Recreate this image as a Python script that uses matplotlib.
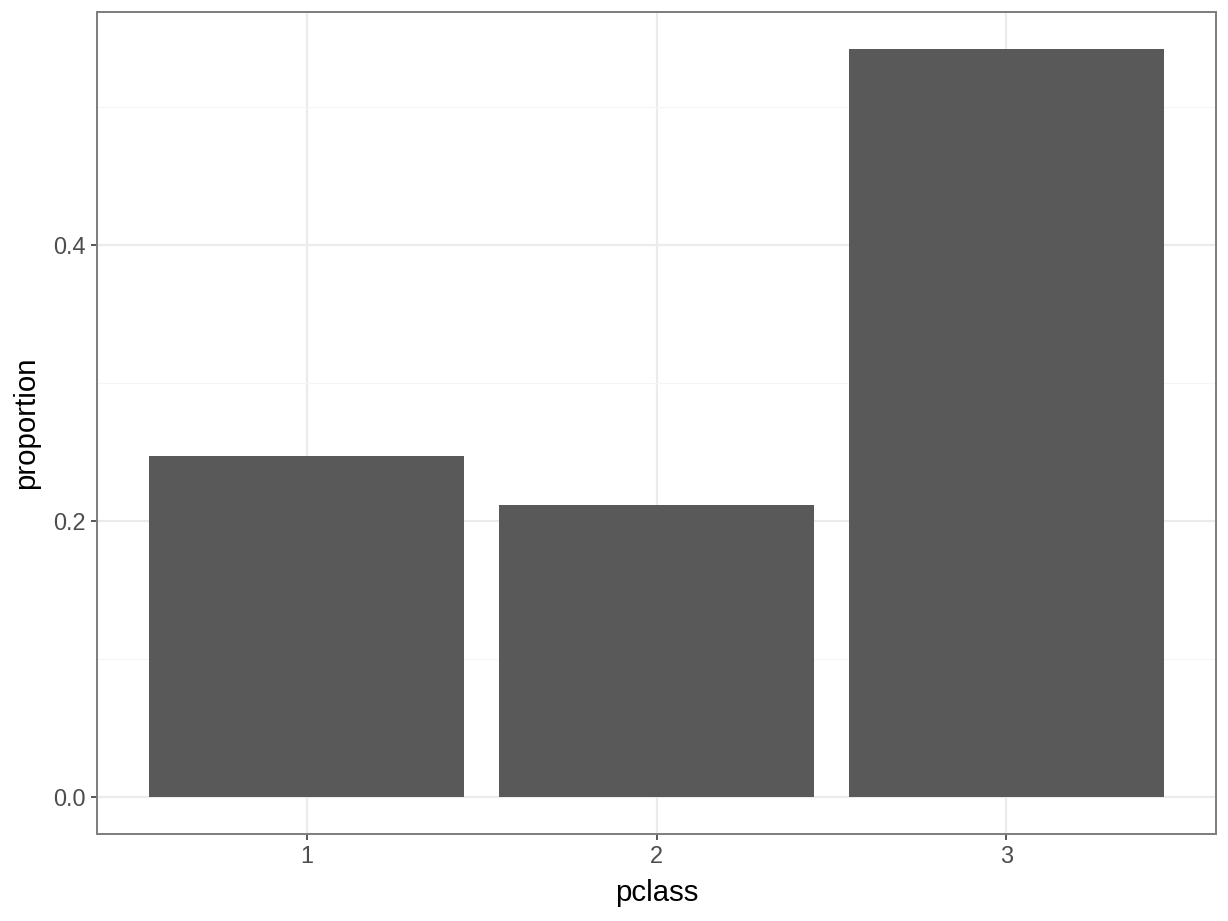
import matplotlib
matplotlib.use("Agg")
import matplotlib.pyplot as plt
import numpy as np

# titanic passenger share by class
pclass = ['1', '2', '3']
proportion = [323 / 1309, 277 / 1309, 709 / 1309]

plt.rcParams['font.family'] = ['Liberation Sans', 'DejaVu Sans']

fig = plt.figure(figsize=(6.4, 4.8), dpi=191.875)
ax = fig.add_axes([97 / 1228, 1 - 834 / 921, (1216 - 97) / 1228, (834 - 12) / 921])

x = np.arange(1, len(pclass) + 1)
ax.bar(x, proportion, width=0.9, color='#595959', zorder=3)

ymax = max(proportion)
ax.set_ylim(-0.05 * ymax, 1.05 * ymax)
ax.set_xlim(0.4, 3.6)
ax.set_xticks(x)
ax.set_xticklabels(pclass)
ax.set_yticks([0.0, 0.2, 0.4])
ax.set_yticklabels(['0.0', '0.2', '0.4'])
ax.set_yticks([0.1, 0.3, 0.5], minor=True)
ax.tick_params(axis='x', which='minor', bottom=False)

ax.grid(True, which='major', color='#ebebeb', linewidth=0.8, zorder=0)
ax.grid(True, which='minor', axis='y', color='#f5f5f5', linewidth=0.4, zorder=0)
ax.set_axisbelow(True)

ax.tick_params(which='major', length=2.2, width=0.6, color='#333333',
               labelsize=8.8, labelcolor='#4d4d4d', pad=2)
ax.tick_params(which='minor', length=0)
for s in ax.spines.values():
    s.set_color('#7f7f7f')
    s.set_linewidth(0.75)

ax.set_xlabel('pclass', fontsize=11, labelpad=4)
ax.set_ylabel('proportion', fontsize=11, labelpad=5)

fig.savefig('out.png', dpi=191.875)
